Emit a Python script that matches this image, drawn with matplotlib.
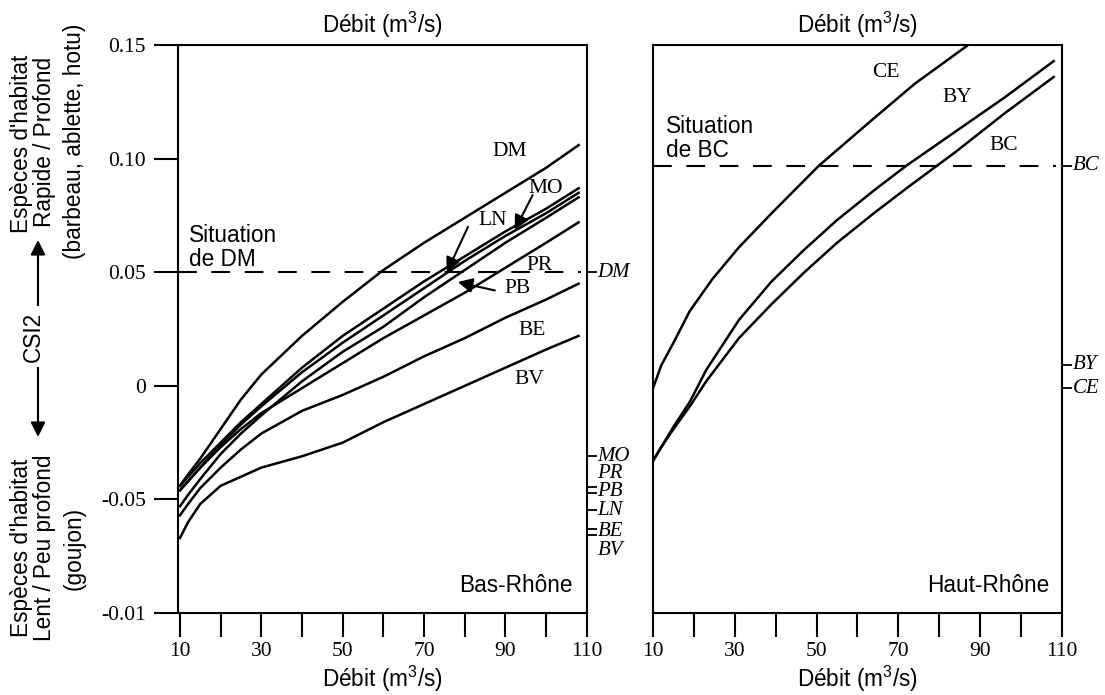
import matplotlib
matplotlib.use("Agg")
import matplotlib.pyplot as plt
import matplotlib.transforms as mtransforms

plt.rcParams['font.family'] = ['Liberation Sans', 'DejaVu Sans']
plt.rcParams['mathtext.fontset'] = 'custom'
plt.rcParams['mathtext.rm'] = 'Liberation Sans'
plt.rcParams['mathtext.it'] = 'Liberation Sans:italic'
SERIF = ['Liberation Serif', 'DejaVu Serif']
FS = 16.3

# ---- Bas-Rhône ----
x_bas = [10, 12, 15, 20, 25, 30, 40, 50, 60, 70, 80, 90, 100, 108]
bas = {
    'DM': [-0.044, -0.039, -0.032, -0.019, -0.006, 0.005, 0.022, 0.037, 0.051, 0.063, 0.074, 0.085, 0.096, 0.106],
    'MO': [-0.044, -0.040, -0.034, -0.025, -0.016, -0.008, 0.008, 0.022, 0.034, 0.046, 0.057, 0.068, 0.078, 0.087],
    'LN': [-0.046, -0.042, -0.036, -0.026, -0.017, -0.009, 0.006, 0.019, 0.031, 0.043, 0.055, 0.066, 0.076, 0.085],
    'PB': [-0.053, -0.048, -0.041, -0.030, -0.021, -0.013, 0.002, 0.015, 0.026, 0.039, 0.051, 0.063, 0.074, 0.083],
    'PR': [-0.046, -0.042, -0.036, -0.027, -0.019, -0.012, -0.001, 0.010, 0.021, 0.031, 0.041, 0.052, 0.063, 0.072],
    'BE': [-0.057, -0.052, -0.045, -0.036, -0.028, -0.021, -0.011, -0.004, 0.004, 0.013, 0.021, 0.030, 0.038, 0.045],
    'BV': [-0.067, -0.060, -0.052, -0.044, -0.040, -0.036, -0.031, -0.025, -0.016, -0.008, 0.000, 0.008, 0.016, 0.022],
}
# curve labels (x, y)
bas_lab = {'DM': (91, 0.103), 'MO': (100, 0.087), 'LN': (87, 0.073), 'PR': (98.5, 0.053),
           'PB': (93, 0.043), 'BE': (96.5, 0.0245), 'BV': (96, 0.0026)}
# arrows: tail -> tip
bas_arrows = [((80.8, 0.070), (75.6, 0.050)), ((96.7, 0.084), (92.3, 0.0686)), ((87.4, 0.042), (78.3, 0.0457))]
# right-axis marks
bas_ticks = [0.05, -0.031, -0.0445, -0.047, -0.0547, -0.063, -0.0657]
bas_side = {'DM': 0.05, 'MO': -0.031, 'PR': -0.0384, 'PB': -0.0463, 'LN': -0.0547, 'BE': -0.0643, 'BV': -0.0723}
seuil_bas = 0.05

# ---- Haut-Rhône ----
x_ce = [10, 12, 15, 19, 24.5, 31, 39, 50.6, 63.5, 74, 87]
ce = [-0.001, 0.009, 0.019, 0.033, 0.047, 0.061, 0.076, 0.097, 0.117, 0.133, 0.150]
x_haut = [10, 12, 15, 19, 23, 31, 39, 47, 55, 64, 72, 84, 96, 108]
by = [-0.033, -0.027, -0.018, -0.007, 0.007, 0.029, 0.046, 0.060, 0.073, 0.086, 0.097, 0.112, 0.127, 0.143]
bc = [-0.033, -0.027, -0.019, -0.009, 0.002, 0.021, 0.036, 0.050, 0.063, 0.076, 0.087, 0.103, 0.120, 0.136]
haut_lab = {'CE': (67, 0.138), 'BY': (84.4, 0.127), 'BC': (95.8, 0.106)}
haut_ticks = [0.097, 0.0092, -0.001]
haut_side = {'BC': 0.097, 'BY': 0.0092, 'CE': -0.001}
seuil_haut = 0.097

yticks = [0.15, 0.10, 0.05, 0, -0.05, -0.10]
ytick_labels = ['0.15', '0.10', '0.05', '0', '-0.05', '-0.01']
xticks = list(range(10, 111, 10))
xtick_labels = ['10', '', '30', '', '50', '', '70', '', '90', '', '110']

xlabel = r'Débit (m$^{\mathrm{3}}$/s)'

fig = plt.figure(figsize=(11.05, 6.95), dpi=100)
ax1 = fig.add_axes([0.161, 0.118, 0.370, 0.817])
ax2 = fig.add_axes([0.591, 0.118, 0.370, 0.817])


def style(ax, xmin):
    ax.set_xlim(xmin, 110)
    ax.set_ylim(-0.10, 0.15)
    for s in ax.spines.values():
        s.set_linewidth(1.5)
    ax.set_xticks(xticks)
    ax.set_xticklabels(xtick_labels, fontfamily=SERIF, fontsize=15.5)
    ax.tick_params(axis='x', direction='out', length=17, width=1.5, pad=4)
    ax.set_xlabel(xlabel, fontsize=FS, labelpad=2)
    ax.set_title(xlabel, fontsize=FS, pad=9)


style(ax1, 9.5)
style(ax2, 10)

ax1.set_yticks(yticks)
ax1.set_yticklabels(ytick_labels, fontfamily=SERIF, fontsize=15.5)
ax1.tick_params(axis='y', direction='out', length=17, width=1.5, pad=6)
ax2.set_yticks([])

# curves
for name, vals in bas.items():
    ax1.plot(x_bas, vals, color='black', lw=1.8, solid_joinstyle='round')
for name, (lx, ly) in bas_lab.items():
    ax1.text(lx, ly, name, fontfamily=SERIF, fontsize=15.5, ha='center', va='center')
for tail, tip in bas_arrows:
    ax1.annotate('', xy=tip, xytext=tail,
                 arrowprops=dict(arrowstyle='-|>', color='black', lw=1.5, mutation_scale=22,
                                 shrinkA=0, shrinkB=0))

ax2.plot(x_ce, ce, color='black', lw=1.8, solid_joinstyle='round')
ax2.plot(x_haut, by, color='black', lw=1.8, solid_joinstyle='round')
ax2.plot(x_haut, bc, color='black', lw=1.8, solid_joinstyle='round')
for name, (lx, ly) in haut_lab.items():
    ax2.text(lx, ly, name, fontfamily=SERIF, fontsize=15.5, ha='center', va='center')

# seuils
ax1.axhline(seuil_bas, color='black', lw=1.5, dashes=(9, 7), xmax=0.985)
ax2.axhline(seuil_haut, color='black', lw=1.5, dashes=(9, 7), xmax=0.985)
ax1.text(12.3, 0.0505, 'Situation\nde DM', fontsize=FS, ha='left', va='bottom', linespacing=1.05)
ax2.text(13.2, 0.0985, 'Situation\nde BC', fontsize=FS, ha='left', va='bottom', linespacing=1.05)

ax1.text(106.5, -0.088, 'Bas-Rhône', fontsize=FS, ha='right', va='center')
ax2.text(107, -0.088, 'Haut-Rhône', fontsize=FS, ha='right', va='center')

# right-side marks
for ax, ticks, side in [(ax1, bas_ticks, bas_side), (ax2, haut_ticks, haut_side)]:
    tw = ax.twinx()
    tw.set_ylim(-0.10, 0.15)
    tw.set_yticks(ticks)
    tw.set_yticklabels([])
    tw.tick_params(axis='y', direction='out', length=7, width=1.3)
    for s in tw.spines.values():
        s.set_visible(False)
    trans = mtransforms.blended_transform_factory(ax.transAxes, ax.transData)
    for name, yy in side.items():
        ax.text(1.026, yy, name, transform=trans, fontfamily=SERIF, fontstyle='italic',
                fontsize=15, ha='left', va='center', clip_on=False)

# left-hand axis description
W, H = 1105.0, 695.0
fig.text(22 / W, 1 - 144 / H, "Espèces d'habitat", rotation=90, ha='center', va='center', fontsize=FS)
fig.text(45 / W, 1 - 142 / H, "Rapide / Profond", rotation=90, ha='center', va='center', fontsize=FS)
fig.text(74 / W, 1 - 141 / H, "(barbeau, ablette, hotu)", rotation=90, ha='center', va='center', fontsize=FS)
fig.text(22 / W, 1 - 548 / H, "Espèces d'habitat", rotation=90, ha='center', va='center', fontsize=FS)
fig.text(45 / W, 1 - 548 / H, "Lent / Peu profond", rotation=90, ha='center', va='center', fontsize=FS)
fig.text(74 / W, 1 - 548 / H, "(goujon)", rotation=90, ha='center', va='center', fontsize=FS)
fig.text(33 / W, 1 - 337 / H, "CSI2", rotation=90, ha='center', va='center', fontsize=FS)
fig.add_artist(plt.Line2D([38 / W, 38 / W], [1 - 305 / H, 1 - 255 / H], color='black', lw=1.5))
fig.add_artist(plt.Line2D([38 / W, 38 / W], [1 - 368 / H, 1 - 420 / H], color='black', lw=1.5))
ax1.annotate('', xy=(38 / W, 1 - 240 / H), xytext=(38 / W, 1 - 262 / H), xycoords='figure fraction',
             textcoords='figure fraction',
             arrowprops=dict(arrowstyle='-|>', color='black', lw=1.5, mutation_scale=22, shrinkA=0, shrinkB=0))
ax1.annotate('', xy=(38 / W, 1 - 437 / H), xytext=(38 / W, 1 - 415 / H), xycoords='figure fraction',
             textcoords='figure fraction',
             arrowprops=dict(arrowstyle='-|>', color='black', lw=1.5, mutation_scale=22, shrinkA=0, shrinkB=0))

fig.savefig('out.png', dpi=100)
